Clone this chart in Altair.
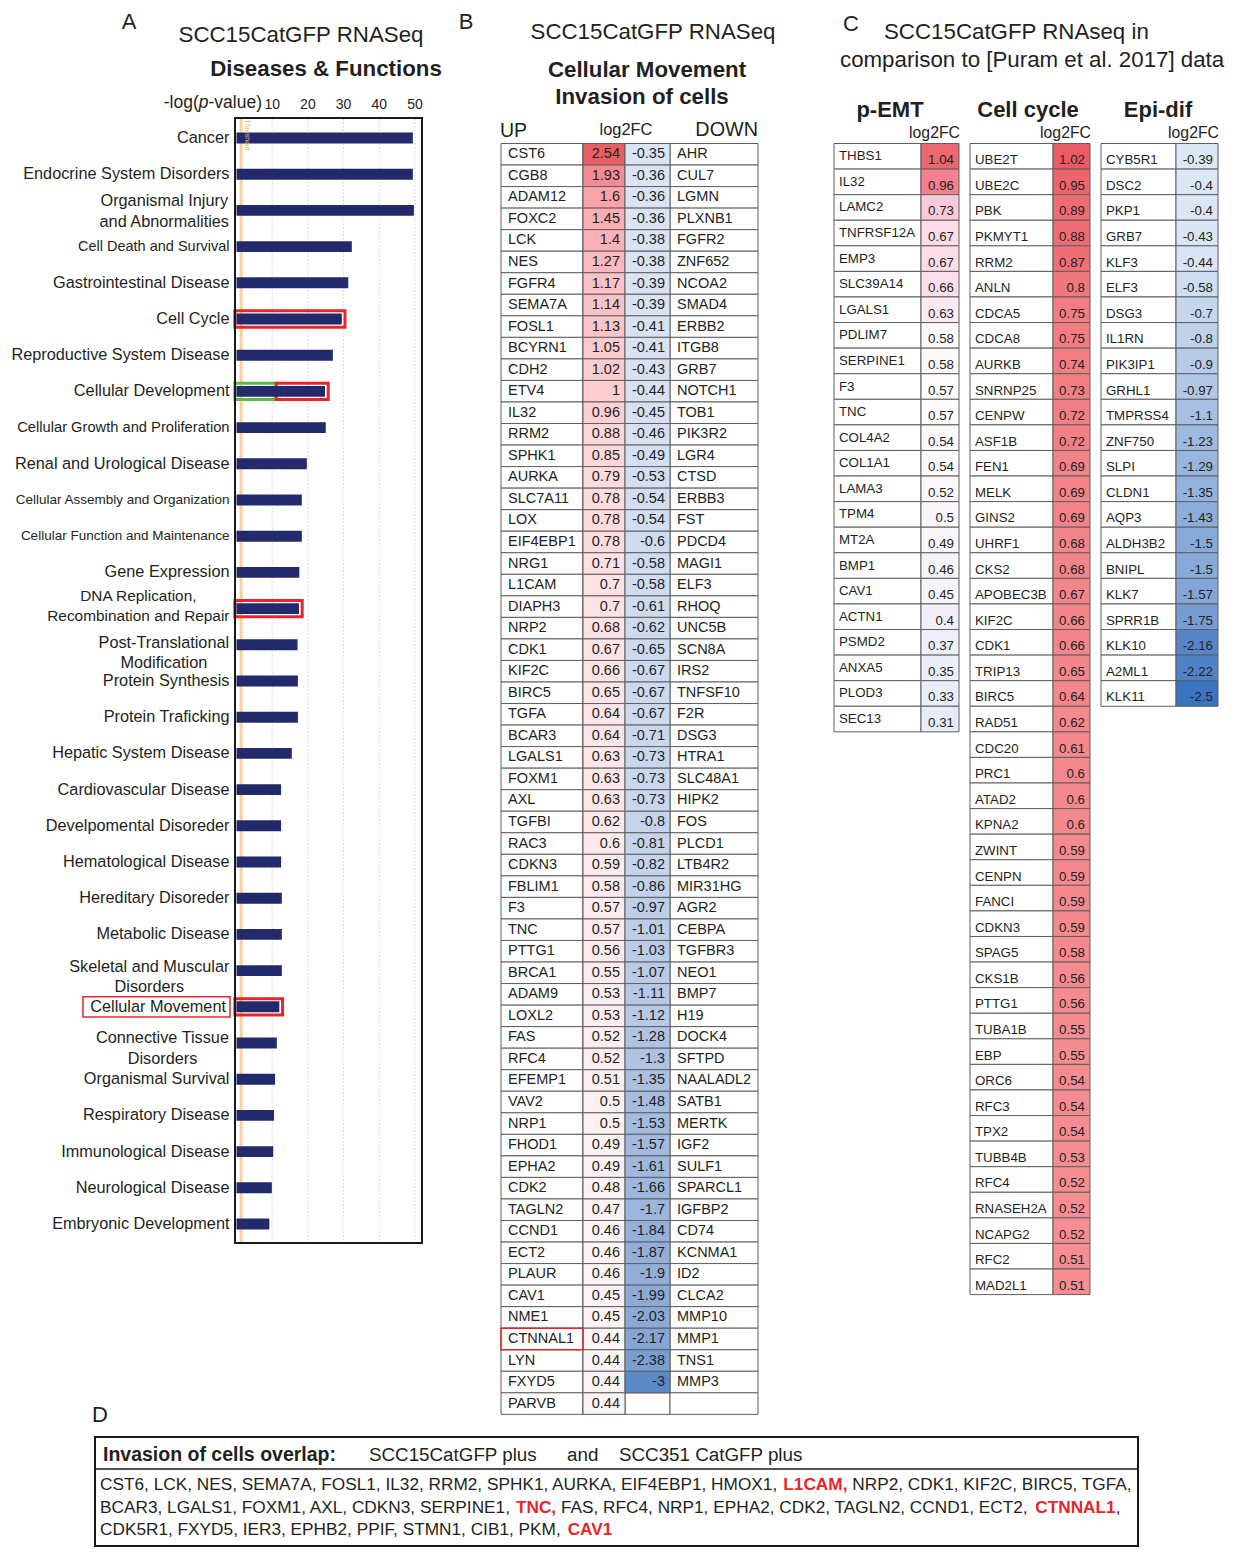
import altair as alt
import pandas as pd

# ---------------------------------------------------------------- data
A_CATS = ["Cancer", "Endocrine System Disorders", "Organismal Injury\nand Abnormalities",
          "Cell Death and Survival", "Gastrointestinal Disease", "Cell Cycle",
          "Reproductive System Disease", "Cellular Development", "Cellular Growth and Proliferation",
          "Renal and Urological Disease", "Cellular Assembly and Organization",
          "Cellular Function and Maintenance", "Gene Expression",
          "DNA Replication,\nRecombination and Repair", "Post-Translational\nModification",
          "Protein Synthesis", "Protein Traficking", "Hepatic System Disease",
          "Cardiovascular Disease", "Develpomental Disoreder", "Hematological Disease",
          "Hereditary Disoreder", "Metabolic Disease", "Skeletal and Muscular\nDisorders",
          "Cellular Movement", "Connective Tissue\nDisorders", "Organismal Survival",
          "Respiratory Disease", "Immunological Disease", "Neurological Disease",
          "Embryonic Development"]
A_VALS = [49.4, 49.4, 49.7, 32.3, 31.3, 29.5, 27.0, 24.8, 25.0, 19.7, 18.3, 18.3, 17.6, 17.5,
          17.1, 17.2, 17.2, 15.5, 12.5, 12.5, 12.5, 12.7, 12.7, 12.7, 12.0, 11.3, 10.8, 10.5,
          10.3, 9.9, 9.2]
A_TICKS = [10, 20, 30, 40, 50]
A_THRESHOLD = 1.3
A_RED_BOX = ["Cell Cycle", "Cellular Development", "DNA Replication,\nRecombination and Repair",
             "Cellular Movement"]
A_GREEN_SPLIT = {"Cellular Development": 11.1}
A_LABEL_BOX = "Cellular Movement"

B_UP_GENES = ["CST6", "CGB8", "ADAM12", "FOXC2", "LCK", "NES", "FGFR4", "SEMA7A", "FOSL1", "BCYRN1",
              "CDH2", "ETV4", "IL32", "RRM2", "SPHK1", "AURKA", "SLC7A11", "LOX", "EIF4EBP1", "NRG1",
              "L1CAM", "DIAPH3", "NRP2", "CDK1", "KIF2C", "BIRC5", "TGFA", "BCAR3", "LGALS1", "FOXM1",
              "AXL", "TGFBI", "RAC3", "CDKN3", "FBLIM1", "F3", "TNC", "PTTG1", "BRCA1", "ADAM9",
              "LOXL2", "FAS", "RFC4", "EFEMP1", "VAV2", "NRP1", "FHOD1", "EPHA2", "CDK2", "TAGLN2",
              "CCND1", "ECT2", "PLAUR", "CAV1", "NME1", "CTNNAL1", "LYN", "FXYD5", "PARVB"]
B_UP_VALS = [2.54, 1.93, 1.6, 1.45, 1.4, 1.27, 1.17, 1.14, 1.13, 1.05, 1.02, 1, 0.96, 0.88, 0.85,
             0.79, 0.78, 0.78, 0.78, 0.71, 0.7, 0.7, 0.68, 0.67, 0.66, 0.65, 0.64, 0.64, 0.63, 0.63,
             0.63, 0.62, 0.6, 0.59, 0.58, 0.57, 0.57, 0.56, 0.55, 0.53, 0.53, 0.52, 0.52, 0.51, 0.5,
             0.5, 0.49, 0.49, 0.48, 0.47, 0.46, 0.46, 0.46, 0.45, 0.45, 0.44, 0.44, 0.44, 0.44]
B_DOWN_GENES = ["AHR", "CUL7", "LGMN", "PLXNB1", "FGFR2", "ZNF652", "NCOA2", "SMAD4", "ERBB2", "ITGB8",
                "GRB7", "NOTCH1", "TOB1", "PIK3R2", "LGR4", "CTSD", "ERBB3", "FST", "PDCD4", "MAGI1",
                "ELF3", "RHOQ", "UNC5B", "SCN8A", "IRS2", "TNFSF10", "F2R", "DSG3", "HTRA1", "SLC48A1",
                "HIPK2", "FOS", "PLCD1", "LTB4R2", "MIR31HG", "AGR2", "CEBPA", "TGFBR3", "NEO1", "BMP7",
                "H19", "DOCK4", "SFTPD", "NAALADL2", "SATB1", "MERTK", "IGF2", "SULF1", "SPARCL1",
                "IGFBP2", "CD74", "KCNMA1", "ID2", "CLCA2", "MMP10", "MMP1", "TNS1", "MMP3"]
B_DOWN_VALS = [-0.35, -0.36, -0.36, -0.36, -0.38, -0.38, -0.39, -0.39, -0.41, -0.41, -0.43, -0.44,
               -0.45, -0.46, -0.49, -0.53, -0.54, -0.54, -0.6, -0.58, -0.58, -0.61, -0.62, -0.65,
               -0.67, -0.67, -0.67, -0.71, -0.73, -0.73, -0.73, -0.8, -0.81, -0.82, -0.86, -0.97,
               -1.01, -1.03, -1.07, -1.11, -1.12, -1.28, -1.3, -1.35, -1.48, -1.53, -1.57, -1.61,
               -1.66, -1.7, -1.84, -1.87, -1.9, -1.99, -2.03, -2.17, -2.38, -3]
B_BOXED = "CTNNAL1"

C_EMT_GENES = ["THBS1", "IL32", "LAMC2", "TNFRSF12A", "EMP3", "SLC39A14", "LGALS1", "PDLIM7",
               "SERPINE1", "F3", "TNC", "COL4A2", "COL1A1", "LAMA3", "TPM4", "MT2A", "BMP1", "CAV1",
               "ACTN1", "PSMD2", "ANXA5", "PLOD3", "SEC13"]
C_EMT_VALS = [1.04, 0.96, 0.73, 0.67, 0.67, 0.66, 0.63, 0.58, 0.58, 0.57, 0.57, 0.54, 0.54, 0.52,
              0.5, 0.49, 0.46, 0.45, 0.4, 0.37, 0.35, 0.33, 0.31]
C_CC_GENES = ["UBE2T", "UBE2C", "PBK", "PKMYT1", "RRM2", "ANLN", "CDCA5", "CDCA8", "AURKB", "SNRNP25",
              "CENPW", "ASF1B", "FEN1", "MELK", "GINS2", "UHRF1", "CKS2", "APOBEC3B", "KIF2C", "CDK1",
              "TRIP13", "BIRC5", "RAD51", "CDC20", "PRC1", "ATAD2", "KPNA2", "ZWINT", "CENPN", "FANCI",
              "CDKN3", "SPAG5", "CKS1B", "PTTG1", "TUBA1B", "EBP", "ORC6", "RFC3", "TPX2", "TUBB4B",
              "RFC4", "RNASEH2A", "NCAPG2", "RFC2", "MAD2L1"]
C_CC_VALS = [1.02, 0.95, 0.89, 0.88, 0.87, 0.8, 0.75, 0.75, 0.74, 0.73, 0.72, 0.72, 0.69, 0.69, 0.69,
             0.68, 0.68, 0.67, 0.66, 0.66, 0.65, 0.64, 0.62, 0.61, 0.6, 0.6, 0.6, 0.59, 0.59, 0.59,
             0.59, 0.58, 0.56, 0.56, 0.55, 0.55, 0.54, 0.54, 0.54, 0.53, 0.52, 0.52, 0.52, 0.51, 0.51]
C_EPI_GENES = ["CYB5R1", "DSC2", "PKP1", "GRB7", "KLF3", "ELF3", "DSG3", "IL1RN", "PIK3IP1", "GRHL1",
               "TMPRSS4", "ZNF750", "SLPI", "CLDN1", "AQP3", "ALDH3B2", "BNIPL", "KLK7", "SPRR1B",
               "KLK10", "A2ML1", "KLK11"]
C_EPI_VALS = [-0.39, -0.4, -0.4, -0.43, -0.44, -0.58, -0.7, -0.8, -0.9, -0.97, -1.1, -1.23, -1.29,
              -1.35, -1.43, -1.5, -1.5, -1.57, -1.75, -2.16, -2.22, -2.5]

D_HEADER = ["Invasion of cells overlap:", "SCC15CatGFP plus", "and", "SCC351 CatGFP plus"]
D_LINES = [
    [("CST6, LCK, NES, SEMA7A, FOSL1, IL32, RRM2, SPHK1, AURKA, EIF4EBP1, HMOX1, ", False),
     ("L1CAM,", True), (" NRP2, CDK1, KIF2C, BIRC5, TGFA,", False)],
    [("BCAR3, LGALS1, FOXM1, AXL, CDKN3, SERPINE1, ", False), ("TNC,", True),
     (" FAS, RFC4, NRP1, EPHA2, CDK2, TAGLN2, CCND1, ECT2, ", False), ("CTNNAL1", True), (",", False)],
    [("CDK5R1, FXYD5, IER3, EPHB2, PPIF, STMN1, CIB1, PKM, ", False), ("CAV1", True)],
]

# ---------------------------------------------------------------- styling helpers
FONT = "Liberation Sans"
INK = "#231f20"
NAVY = "#232a6b"
RED = "#e8262a"
GRID = "#5f5f5f"
W, H = 1220, 1540
OFF = 8


def px(x):
    return x - OFF


def py(y):
    return y - OFF


def sx(domain, rng):
    return alt.Scale(domain=list(domain), range=[px(v) for v in rng], nice=False, zero=False)


def sy(domain, rng):
    return alt.Scale(domain=list(domain), range=[py(v) for v in rng], nice=False, zero=False)


_REG = {' ': 278, ',': 278, '.': 278, ':': 278, '-': 333, '(': 333, ')': 333, '[': 278, ']': 278, '&': 667}
_BLD = {' ': 278, ',': 278, '.': 278, ':': 333, '-': 333, '(': 333, ')': 333, '[': 333, ']': 333, '&': 722}
for ch in "0123456789":
    _REG[ch] = 556
    _BLD[ch] = 556
for ch, a, b in zip("ABCDEFGHIJKLMNOPQRSTUVWXYZ",
                    [667, 667, 722, 722, 667, 611, 778, 722, 278, 500, 667, 556, 833, 722, 778, 667, 778,
                     722, 667, 611, 722, 667, 944, 667, 667, 611],
                    [722, 722, 722, 722, 667, 611, 778, 722, 278, 556, 722, 611, 833, 722, 778, 667, 778,
                     722, 667, 611, 722, 667, 944, 667, 667, 611]):
    _REG[ch] = a
    _BLD[ch] = b
for ch, a, b in zip("abcdefghijklmnopqrstuvwxyz",
                    [556, 556, 500, 556, 556, 278, 556, 556, 222, 222, 500, 222, 833, 556, 556, 556, 556,
                     333, 500, 278, 556, 500, 722, 500, 500, 500],
                    [556, 611, 556, 611, 556, 333, 611, 611, 278, 278, 556, 278, 889, 611, 611, 611, 611,
                     389, 556, 333, 611, 556, 778, 556, 556, 500]):
    _REG[ch] = a
    _BLD[ch] = b


def tw(s, size, bold=False):
    t = _BLD if bold else _REG
    return sum(t.get(c, 556) for c in s) * size / 1000.0


def label(text, x, y, size, bold=False, italic=False, color=INK, align='left', angle=0, lh=None):
    props = dict(align=align, baseline='middle', fontSize=size, font=FONT, color=color,
                 fontWeight='bold' if bold else 'normal', fontStyle='italic' if italic else 'normal',
                 lineBreak='\n')
    if angle:
        props['angle'] = angle
    if lh:
        props['lineHeight'] = lh
    return alt.Chart(pd.DataFrame({'t': [text]})).mark_text(**props).encode(
        x=alt.value(px(x)), y=alt.value(py(y)), text='t:N')


def fmt(v):
    return f"{v:g}"


layers = []

# ================================================================ Panel A
nA = len(A_CATS)
A_LABEL_SIZE = {"Cell Death and Survival": 14.5, "Cellular Growth and Proliferation": 14.7,
                "Cellular Assembly and Organization": 13.5, "Cellular Function and Maintenance": 13.5,
                "DNA Replication,\nRecombination and Repair": 15.4}
# vertical offset (px) of the first line of two-line labels relative to the bar centre
A_FIRST_LINE_DY = {"Organismal Injury\nand Abnormalities": -9,
                   "DNA Replication,\nRecombination and Repair": -13,
                   "Post-Translational\nModification": -2,
                   "Skeletal and Muscular\nDisorders": -4,
                   "Connective Tissue\nDisorders": -5}
A_RIGHT = {"Cellular Movement": 226}

step = (1224 - 138) / (nA - 1)
yd0 = -(138 - 118) / step
yd1 = yd0 + (1243 - 118) / step
xA = sx([-0.42, 51.96], [235, 422])
yA = sy([yd0, yd1], [118, 1243])
dfA = pd.DataFrame({'name': A_CATS, 'val': A_VALS})
dfA['idx'] = range(nA)
dfA['y0'] = dfA.idx - 0.15
dfA['y1'] = dfA.idx + 0.15
dfA['z'] = 0.0
dfA['fs'] = [A_LABEL_SIZE.get(c, 16.3) for c in A_CATS]

layers.append(label("A", 129, 22, 22, align='center'))
layers.append(label("SCC15CatGFP RNASeq", 301, 35, 22.3, align='center'))
layers.append(label("Diseases & Functions", 326, 69, 22.3, bold=True, align='center'))

# axis title -log(p-value)
fsz = 17.5
x_p = 262 - tw("-value)", fsz) - tw("p", fsz)
layers.append(label("-log(", x_p, 103, fsz, align='right'))
layers.append(label("p", x_p, 103, fsz, italic=True))
layers.append(label("-value)", x_p + tw("p", fsz), 103, fsz))

dfT = pd.DataFrame({'t': A_TICKS})
layers.append(alt.Chart(dfT).mark_text(fontSize=14, font=FONT, color=INK, baseline='middle').encode(
    x=alt.X('t:Q', scale=xA, axis=None), y=alt.value(py(105)), text='t:N'))
layers.append(alt.Chart(dfT).mark_rule(color='#cfcfcf', strokeDash=[1.5, 2], strokeWidth=1).encode(
    x=alt.X('t:Q', scale=xA, axis=None), y=alt.value(py(119)), y2=alt.value(py(1242))))
layers.append(alt.Chart(pd.DataFrame({'t': [A_THRESHOLD]})).mark_rule(
    color='#f9c98c', strokeWidth=3, opacity=0.85).encode(
    x=alt.X('t:Q', scale=xA, axis=None), y=alt.value(py(119)), y2=alt.value(py(1242))))

# highlight boxes
rows = []
for c in A_RED_BOX:
    i = A_CATS.index(c)
    v = A_VALS[i]
    start = -0.45
    if c in A_GREEN_SPLIT:
        rows.append(dict(idx=i, x0=start, x1=A_GREEN_SPLIT[c], col='#5cb947'))
        start = A_GREEN_SPLIT[c]
    rows.append(dict(idx=i, x0=start, x1=v + 0.9, col=RED))
dfH = pd.DataFrame(rows)
dfH['y0'] = dfH.idx - 0.225
dfH['y1'] = dfH.idx + 0.225
layers.append(alt.Chart(dfH).mark_rect(filled=False, strokeWidth=3).encode(
    x=alt.X('x0:Q', scale=xA, axis=None), x2=alt.X2('x1'),
    y=alt.Y('y0:Q', scale=yA, axis=None), y2=alt.Y2('y1'),
    color=alt.Color('col:N', scale=None)))

layers.append(alt.Chart(dfA).mark_rect(color=NAVY).encode(
    x=alt.X('z:Q', scale=xA, axis=None), x2=alt.X2('val'),
    y=alt.Y('y0:Q', scale=yA, axis=None), y2=alt.Y2('y1')))

layers.append(alt.Chart(pd.DataFrame({'t': ["Threshold"]})).mark_text(
    fontSize=7, font=FONT, color='#f0b45a', angle=90, baseline='middle').encode(
    x=alt.X('v:Q', scale=xA, axis=None), y=alt.value(py(135)), text='t:N').transform_calculate(v='2.9'))

# frame
layers.append(alt.Chart(pd.DataFrame({'x0': [-0.42], 'x1': [51.96], 'y0': [yd0], 'y1': [yd1]}))
              .mark_rect(filled=False, stroke='#1a1a1a', strokeWidth=2).encode(
    x=alt.X('x0:Q', scale=xA, axis=None), x2=alt.X2('x1'),
    y=alt.Y('y0:Q', scale=yA, axis=None), y2=alt.Y2('y1')))

# category labels
multi_mask = dfA['name'].str.contains('\n')
special = dfA['name'].isin(list(A_RIGHT.keys()))
single = dfA[~multi_mask & ~special].copy()
layers.append(alt.Chart(single).mark_text(align='right', baseline='middle', font=FONT, color=INK).encode(
    x=alt.value(px(229.5)), y=alt.Y('idx:Q', scale=yA, axis=None), text='name:N',
    size=alt.Size('fs:Q', scale=None, legend=None)))
for nm, xr in A_RIGHT.items():
    i = A_CATS.index(nm)
    layers.append(alt.Chart(pd.DataFrame({'name': [nm], 'idx': [i]})).mark_text(
        align='right', baseline='middle', font=FONT, color=INK, fontSize=16.3).encode(
        x=alt.value(px(xr)), y=alt.Y('idx:Q', scale=yA, axis=None), text='name:N'))
for _, r in dfA[multi_mask].iterrows():
    nm = r['name']
    fs = float(r['fs'])
    maxw = max(tw(s, fs) for s in nm.split('\n'))
    cx = 229.5 - maxw / 2
    layers.append(alt.Chart(pd.DataFrame({'name': [nm], 'idx': [int(r['idx'])]})).mark_text(
        align='center', baseline='middle', font=FONT, color=INK, fontSize=fs,
        lineBreak='\n', lineHeight=20.5, dy=A_FIRST_LINE_DY.get(nm, -10)).encode(
        x=alt.value(px(cx)), y=alt.Y('idx:Q', scale=yA, axis=None), text='name:N'))

# label box
iL = A_CATS.index(A_LABEL_BOX)
layers.append(alt.Chart(pd.DataFrame({'y0': [iL - 0.28], 'y1': [iL + 0.28]})).mark_rect(
    filled=False, stroke=RED, strokeWidth=1.5).encode(
    x=alt.value(px(83)), x2=alt.value(px(230)),
    y=alt.Y('y0:Q', scale=yA, axis=None), y2=alt.Y2('y1')))

# ================================================================ Panel B
layers.append(label("B", 466, 22, 22, align='center'))
layers.append(label("SCC15CatGFP RNASeq", 653, 32, 22.3, align='center'))
layers.append(label("Cellular Movement", 647, 70, 22.3, bold=True, align='center'))
layers.append(label("Invasion of cells", 642, 97, 22.3, bold=True, align='center'))
layers.append(label("UP", 500, 131, 19.5))
layers.append(label("log2FC", 626, 130, 16.4, align='center'))
layers.append(label("DOWN", 758, 130, 19.8, align='right'))

nB = len(B_UP_GENES)
rowB = 21.54
xB = sx([0, 1, 2, 3, 4], [501, 583, 625, 670, 758])
yB = sy([0, nB], [143.5, 143.5 + nB * rowB])
gridB = pd.DataFrame([(i, c) for i in range(nB) for c in range(4)], columns=['i', 'c'])
gridB['i1'] = gridB.i + 1
gridB['c1'] = gridB.c + 1
layers.append(alt.Chart(gridB).mark_rect(fill='white', stroke=GRID, strokeWidth=1).encode(
    x=alt.X('c:Q', scale=xB, axis=None), x2=alt.X2('c1'),
    y=alt.Y('i:Q', scale=yB, axis=None), y2=alt.Y2('i1')))

dfBu = pd.DataFrame({'i': range(nB), 'g': B_UP_GENES, 'v': B_UP_VALS})
dfBd = pd.DataFrame({'i': range(len(B_DOWN_GENES)), 'g': B_DOWN_GENES, 'v': B_DOWN_VALS})
for d in (dfBu, dfBd):
    d['i1'] = d.i + 1
    d['ym'] = d.i + 0.5
    d['lab'] = d.v.map(fmt)
    d['z'] = 0
dfBu['a'], dfBu['b'] = 1, 2
dfBd['a'], dfBd['b'] = 2, 3

for d, dom, rng in ((dfBu, [0.44, 2.54], ['#fcf4f5', '#ea5f64']),
                    (dfBd, [-3, -0.35], ['#5a8ac6', '#dbe4f3'])):
    layers.append(alt.Chart(d).mark_rect(stroke=GRID, strokeWidth=1).encode(
        x=alt.X('a:Q', scale=xB, axis=None), x2=alt.X2('b'),
        y=alt.Y('i:Q', scale=yB, axis=None), y2=alt.Y2('i1'),
        color=alt.Color('v:Q', scale=alt.Scale(domain=dom, range=rng), legend=None)))

TB = dict(font=FONT, fontSize=14.5, color=INK, baseline='middle')
layers.append(alt.Chart(dfBu).mark_text(align='left', dx=7, **TB).encode(
    x=alt.X('z:Q', scale=xB, axis=None), y=alt.Y('ym:Q', scale=yB, axis=None), text='g:N'))
layers.append(alt.Chart(dfBu).mark_text(align='right', dx=-5, **TB).encode(
    x=alt.X('b:Q', scale=xB, axis=None), y=alt.Y('ym:Q', scale=yB, axis=None), text='lab:N'))
layers.append(alt.Chart(dfBd).mark_text(align='right', dx=-5, **TB).encode(
    x=alt.X('b:Q', scale=xB, axis=None), y=alt.Y('ym:Q', scale=yB, axis=None), text='lab:N'))
layers.append(alt.Chart(dfBd).mark_text(align='left', dx=7, **TB).encode(
    x=alt.X('b:Q', scale=xB, axis=None), y=alt.Y('ym:Q', scale=yB, axis=None), text='g:N'))

iBx = B_UP_GENES.index(B_BOXED)
layers.append(alt.Chart(pd.DataFrame({'c': [0], 'c1': [1], 'i': [iBx], 'i1': [iBx + 1]})).mark_rect(
    filled=False, stroke=RED, strokeWidth=1.5).encode(
    x=alt.X('c:Q', scale=xB, axis=None), x2=alt.X2('c1'),
    y=alt.Y('i:Q', scale=yB, axis=None), y2=alt.Y2('i1')))

# ================================================================ Panel C
layers.append(label("C", 851, 24, 22, align='center'))
layers.append(label("SCC15CatGFP RNAseq in", 884, 32, 22.3))
layers.append(label("comparison to [Puram et al. 2017] data", 840, 60, 22.3))

rowC = 25.58
TC = dict(font=FONT, fontSize=13.3, color=INK, baseline='middle')


def c_table(title, tcx, genes, vals, edges, dom, rng, gene_dy):
    n = len(genes)
    xS = sx([0, 1, 2], edges)
    yS = sy([0, n], [143.5, 143.5 + n * rowC])
    d = pd.DataFrame({'i': range(n), 'g': genes, 'v': vals})
    d['i1'] = d.i + 1
    d['ym'] = d.i + 0.5
    d['lab'] = d.v.map(fmt)
    d['c0'], d['c1'], d['c2'] = 0, 1, 2
    out = [label(title, tcx, 110, 22, bold=True, align='center'),
           label("log2FC", edges[2] + 1, 133, 15.8, align='right')]
    out.append(alt.Chart(d).mark_rect(fill='white', stroke=GRID, strokeWidth=1).encode(
        x=alt.X('c0:Q', scale=xS, axis=None), x2=alt.X2('c1'),
        y=alt.Y('i:Q', scale=yS, axis=None), y2=alt.Y2('i1')))
    out.append(alt.Chart(d).mark_rect(stroke=GRID, strokeWidth=1).encode(
        x=alt.X('c1:Q', scale=xS, axis=None), x2=alt.X2('c2'),
        y=alt.Y('i:Q', scale=yS, axis=None), y2=alt.Y2('i1'),
        color=alt.Color('v:Q', scale=alt.Scale(domain=dom, range=rng), legend=None)))
    out.append(alt.Chart(d).mark_text(align='left', dx=5, dy=gene_dy, **TC).encode(
        x=alt.X('c0:Q', scale=xS, axis=None), y=alt.Y('ym:Q', scale=yS, axis=None), text='g:N'))
    out.append(alt.Chart(d).mark_text(align='right', dx=-5, dy=4, **TC).encode(
        x=alt.X('c2:Q', scale=xS, axis=None), y=alt.Y('ym:Q', scale=yS, axis=None), text='lab:N'))
    return out


layers += c_table("p-EMT", 890, C_EMT_GENES, C_EMT_VALS, [834, 921, 959],
                  [0.31, 0.57, 1.04], ['#e6ecf7', '#fdfbfc', '#ec6770'], 0)
layers += c_table("Cell cycle", 1028, C_CC_GENES, C_CC_VALS, [970, 1053, 1090],
                  [0.51, 0.68, 1.02], ['#f58e92', '#f2858a', '#ea5b64'], 4)
layers += c_table("Epi-dif", 1158, C_EPI_GENES, C_EPI_VALS, [1101, 1176, 1218],
                  [-2.5, -0.39], ['#3a73bf', '#dde8f5'], 4)

# ================================================================ Panel D
layers.append(label("D", 100, 1415, 22, align='center'))
layers.append(alt.Chart(pd.DataFrame({'k': [0]})).mark_rect(
    filled=False, stroke='#1a1a1a', strokeWidth=2).encode(
    x=alt.value(px(95)), x2=alt.value(px(1138)), y=alt.value(py(1437)), y2=alt.value(py(1546))))
layers.append(alt.Chart(pd.DataFrame({'k': [0]})).mark_rule(color='#1a1a1a', strokeWidth=1.5).encode(
    x=alt.value(px(95)), x2=alt.value(px(1138)), y=alt.value(py(1469))))
layers.append(label(D_HEADER[0], 103, 1455, 19.5, bold=True))
for txt, xx in zip(D_HEADER[1:], [369, 567, 619]):
    layers.append(label(txt, xx, 1455, 18.8))

line1 = D_LINES[0]
em1 = sum(tw(s, 1000, b) for s, b in line1) / 1000.0
fsD = 1033.0 / em1
for li, (segs, yy) in enumerate(zip(D_LINES, [1485, 1508, 1530])):
    xx = 100.0
    for s, b in segs:
        lead = len(s) - len(s.lstrip(' '))
        x_start = xx + tw(' ' * lead, fsD, b)
        txt = s.strip(' ')
        if txt:
            layers.append(label(txt, x_start, yy, fsD, bold=b, color=RED if b else INK))
        xx += tw(s, fsD, b)

chart = alt.layer(*layers).resolve_scale(
    x='independent', y='independent', color='independent', size='independent'
).properties(
    width=W, height=H, padding=0, autosize=alt.AutoSizeParams(type='none'), background='white'
).configure_view(stroke=None)

chart.save("out.html", embed_options={"renderer": "svg", "actions": False})
